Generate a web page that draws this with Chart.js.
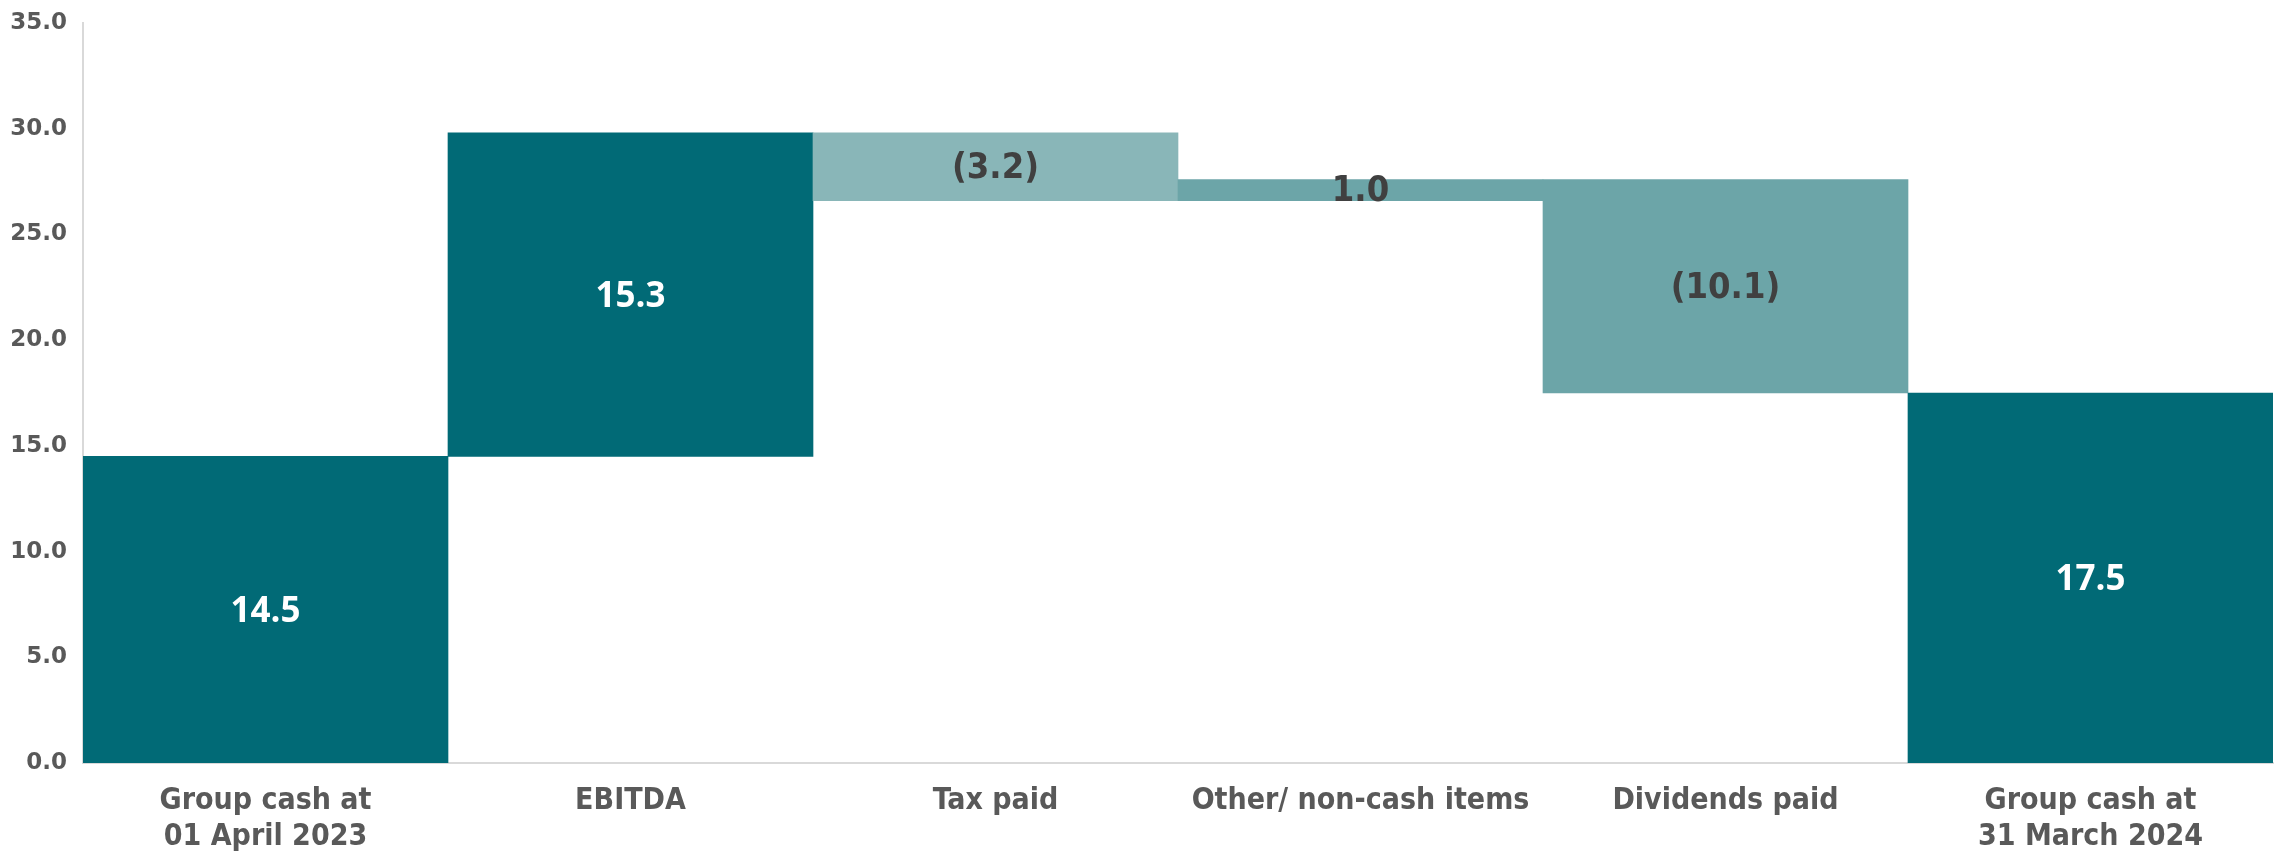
<!DOCTYPE html>
<html>
<head>
<meta charset="utf-8">
<script src="https://cdn.jsdelivr.net/npm/chart.js@4"></script>
<style>
    html, body { margin: 0; padding: 0; background: #ffffff; }
    #wrap { width: 2285px; height: 853px; }
</style>
</head>
<body>
<div id="wrap"><canvas id="cashChart"></canvas></div>
<script>
// Group cash bridge, FY2024 (£m)
const categories = [
    ['Group cash at', '01 April 2023'],
    'EBITDA',
    'Tax paid',
    'Other/ non-cash items',
    'Dividends paid',
    ['Group cash at', '31 March 2024']
];
const changes = [14.5, 15.3, -3.2, 1.0, -10.1, 17.5];
const isTotal = [true, false, false, false, false, true];
const yTicks = [0, 5, 10, 15, 20, 25, 30, 35];

const colors = {
    dark: '#016a76',
    tax: '#89b6b8',
    move: '#6ca5a8',
    text: '#595959',
    darkLabel: '#404040',
    axis: '#d9d9d9'
};
const barColors = [colors.dark, colors.dark, colors.tax, colors.move, colors.move, colors.dark];
const narrow = '"Liberation Sans Narrow", "DejaVu Sans Condensed", "Roboto", sans-serif';

// running totals -> floating [start, end] pairs
let running = 0;
const ranges = changes.map((v, i) => {
    if (isTotal[i]) {
        running = v;
        return [0, v];
    }
    const start = running;
    running = Math.round((running + v) * 10) / 10;
    return [start, running];
});

const fmt = v => v < 0 ? '(' + Math.abs(v).toFixed(1) + ')' : v.toFixed(1);

const valueLabels = {
    id: 'valueLabels',
    afterDatasetsDraw(chart) {
        const ctx = chart.ctx;
        const meta = chart.getDatasetMeta(0);
        ctx.save();
        ctx.textAlign = 'center';
        ctx.textBaseline = 'middle';
        meta.data.forEach((bar, i) => {
            const mid = (bar.y + bar.base) / 2;
            if (barColors[i] === colors.dark) {
                ctx.fillStyle = '#ffffff';
                ctx.font = 'bold 35px "Open Sans", "Noto Sans", sans-serif';
            } else {
                ctx.fillStyle = colors.darkLabel;
                ctx.font = 'bold 36px ' + narrow;
            }
            ctx.fillText(fmt(changes[i]), bar.x, mid + 2);
        });
        ctx.restore();
    }
};

new Chart(document.getElementById('cashChart'), {
    type: 'bar',
    data: {
        labels: categories,
        datasets: [{
            data: ranges,
            backgroundColor: barColors,
            borderWidth: 0,
            barPercentage: 1,
            categoryPercentage: 1
        }]
    },
    options: {
        responsive: true,
        maintainAspectRatio: false,
        animation: false,
        layout: { padding: { top: 23, right: 12, left: 0, bottom: 0 } },
        plugins: {
            legend: { display: false },
            tooltip: { enabled: false }
        },
        scales: {
            x: {
                grid: { display: false, drawTicks: false },
                border: { display: true, color: colors.axis, width: 2 },
                ticks: {
                    color: colors.text,
                    padding: 20,
                    maxRotation: 0,
                    autoSkip: false,
                    font: { family: narrow, size: 30, weight: 'bold', lineHeight: 1.2 }
                },
                afterFit(scale) { scale.height = 90; }
            },
            y: {
                min: 0,
                max: 35,
                afterBuildTicks(scale) { scale.ticks = yTicks.map(v => ({ value: v })); },
                grid: { display: false, drawTicks: false },
                border: { display: true, color: colors.axis, width: 2 },
                ticks: {
                    color: colors.text,
                    padding: 16,
                    callback: v => Number(v).toFixed(1),
                    font: { family: '"DejaVu Sans", sans-serif', size: 23, weight: 'bold' }
                },
                afterFit(scale) {
                    scale.width = 83;
                    scale.paddingTop = 0;
                    scale.paddingBottom = 0;
                }
            }
        }
    },
    plugins: [valueLabels]
});
</script>
</body>
</html>
